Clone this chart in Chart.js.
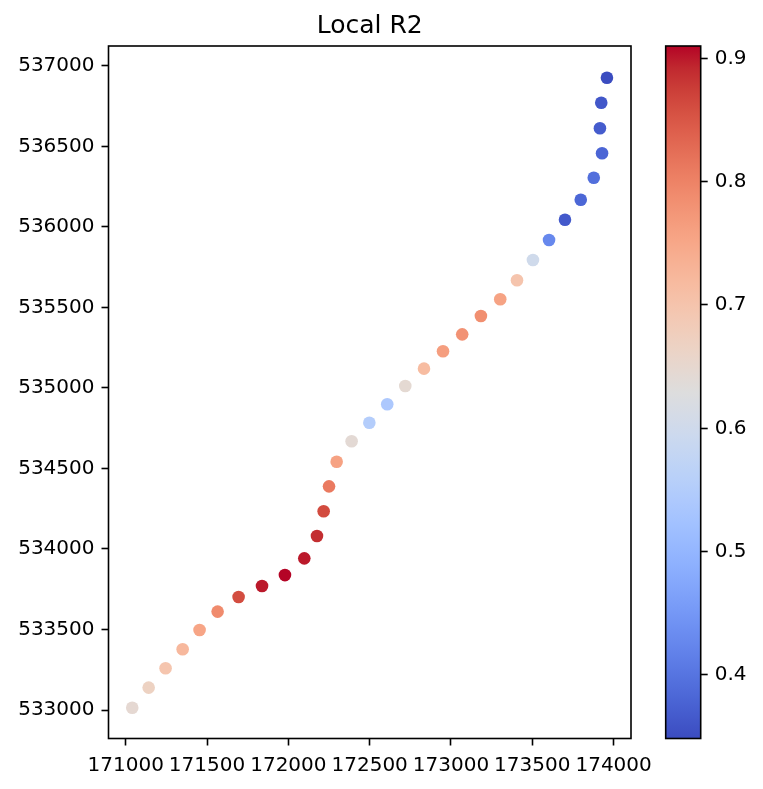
<!DOCTYPE html>
<html>
<head>
<meta charset="utf-8">
<script src="https://cdn.jsdelivr.net/npm/chart.js@4.4.1/dist/chart.umd.min.js"></script>
<style>
  html, body { margin: 0; padding: 0; background: #fff; }
  #wrap { position: relative; width: 763px; height: 789px; }
  #plot { position: absolute; left: 0; top: 0; }
  #cbar { position: absolute; left: 640px; top: 0; }
</style>
</head>
<body>
<div id="wrap">
  <canvas id="plot" width="763" height="789"></canvas>
  <canvas id="cbar" width="123" height="789"></canvas>
</div>
<script>
// tick labels
const xTicks = [171000, 171500, 172000, 172500, 173000, 173500, 174000];
const yTicks = [533000, 533500, 534000, 534500, 535000, 535500, 536000, 536500, 537000];
const cbTicks = [0.4, 0.5, 0.6, 0.7, 0.8, 0.9];

// axis limits
const xRange = [170894, 174107];
const yRange = [532823, 537124];
const cbRange = [0.3485, 0.910];

// point coordinates and local R2 values
const xs = [171040, 171141, 171245, 171350, 171454, 171565, 171694, 171838, 171979, 172098,
            172176, 172217, 172250, 172297, 172389, 172498, 172608, 172719, 172834, 172951,
            173069, 173184, 173303, 173406, 173504, 173603, 173701, 173798, 173878, 173929,
            173916, 173924, 173959];
const ys = [533014, 533139, 533259, 533377, 533497, 533611, 533702, 533770, 533838, 533942,
            534081, 534234, 534389, 534542, 534669, 534784, 534899, 535012, 535120, 535228,
            535333, 535447, 535551, 535669, 535795, 535919, 536045, 536169, 536306, 536458,
            536613, 536772, 536927];
const r2 = [0.646, 0.668, 0.698, 0.722, 0.753, 0.790, 0.860, 0.900, 0.910, 0.900,
            0.888, 0.862, 0.810, 0.758, 0.643, 0.552, 0.540, 0.645, 0.716, 0.764,
            0.780, 0.785, 0.757, 0.700, 0.600, 0.427, 0.365, 0.382, 0.393, 0.380,
            0.368, 0.362, 0.3485];

// coolwarm colormap, 33 samples
const coolwarmTable = [
  [59,76,192],[68,90,204],[77,104,215],[87,117,225],[98,130,234],[108,142,241],
  [119,154,247],[130,165,251],[141,176,254],[152,185,255],[163,194,255],[174,201,253],
  [184,208,249],[194,213,244],[204,217,238],[213,219,230],[221,221,221],[229,216,209],
  [236,211,197],[241,204,185],[245,196,173],[247,187,160],[247,177,148],[247,166,135],
  [244,154,123],[241,141,111],[236,127,99],[229,112,88],[222,96,77],[213,80,66],
  [203,62,56],[192,40,47],[180,4,38]
];

function coolwarm(t) {
    t = Math.max(0, Math.min(1, t));
    const f = t * (coolwarmTable.length - 1);
    const i = Math.min(Math.floor(f), coolwarmTable.length - 2);
    const w = f - i;
    const a = coolwarmTable[i], b = coolwarmTable[i + 1];
    const c = a.map((v, k) => Math.round(v + (b[k] - v) * w));
    return `rgb(${c[0]},${c[1]},${c[2]})`;
}

function norm(v) {
    return (v - cbRange[0]) / (cbRange[1] - cbRange[0]);
}

const FONT = 'DejaVu Sans';

const framePlugin = {
    id: 'frame',
    afterDraw(chart) {
        const a = chart.chartArea;
        const ctx = chart.ctx;
        ctx.save();
        ctx.strokeStyle = '#000';
        ctx.lineWidth = 1.6;
        ctx.strokeRect(a.left, a.top, a.right - a.left, a.bottom - a.top);
        ctx.restore();
    }
};

function tickGrid() {
    return {
        display: true,
        drawOnChartArea: false,
        drawTicks: true,
        tickLength: 7,
        tickWidth: 1.6,
        tickColor: '#000'
    };
}

new Chart(document.getElementById('plot'), {
    type: 'scatter',
    data: {
        datasets: [{
            data: xs.map((x, i) => ({ x: x, y: ys[i] })),
            backgroundColor: r2.map(v => coolwarm(norm(v))),
            pointRadius: 6.3,
            pointHoverRadius: 6.3,
            pointBorderWidth: 0
        }]
    },
    options: {
        responsive: false,
        animation: false,
        devicePixelRatio: 1,
        layout: { padding: { left: 0, right: 132, top: 0, bottom: 0 } },
        plugins: {
            legend: { display: false },
            tooltip: { enabled: false },
            title: {
                display: true,
                text: 'Local R2',
                fullSize: false,
                color: '#000',
                font: { family: FONT, size: 25, weight: 'normal' },
                padding: { top: 11, bottom: 5 }
            }
        },
        scales: {
            x: {
                type: 'linear',
                min: xRange[0],
                max: xRange[1],
                afterBuildTicks: s => { s.ticks = xTicks.map(v => ({ value: v })); },
                afterFit: s => { s.height = 50.5; },
                border: { display: false },
                grid: tickGrid(),
                ticks: {
                    color: '#000',
                    font: { family: FONT, size: 20 },
                    padding: 8,
                    maxRotation: 0,
                    minRotation: 0,
                    autoSkip: false,
                    callback: v => String(v)
                }
            },
            y: {
                type: 'linear',
                min: yRange[0],
                max: yRange[1],
                afterBuildTicks: s => { s.ticks = yTicks.map(v => ({ value: v })); },
                afterFit: s => { s.width = 108.5; },
                border: { display: false },
                grid: tickGrid(),
                ticks: {
                    color: '#000',
                    font: { family: FONT, size: 20 },
                    padding: 7,
                    autoSkip: false,
                    callback: v => String(v)
                }
            }
        }
    },
    plugins: [framePlugin]
});

// colorbar: one floating bar spanning the colour range, filled with the colormap
function cbGradient(context) {
    const chart = context.chart;
    const area = chart.chartArea;
    if (!area) return coolwarm(0.5);
    const yScale = chart.scales.y;
    const top = yScale.getPixelForValue(cbRange[1]);
    const bottom = yScale.getPixelForValue(cbRange[0]);
    const g = chart.ctx.createLinearGradient(0, bottom, 0, top);
    for (let i = 0; i < coolwarmTable.length; i++) {
        const t = i / (coolwarmTable.length - 1);
        g.addColorStop(t, coolwarm(t));
    }
    return g;
}

new Chart(document.getElementById('cbar'), {
    type: 'bar',
    data: {
        labels: ['R2'],
        datasets: [{
            data: [[cbRange[0], cbRange[1]]],
            backgroundColor: cbGradient,
            borderWidth: 0,
            barPercentage: 1,
            categoryPercentage: 1
        }]
    },
    options: {
        responsive: false,
        animation: false,
        devicePixelRatio: 1,
        layout: { padding: { left: 25.7, right: 0, top: 46, bottom: 50.5 } },
        plugins: {
            legend: { display: false },
            tooltip: { enabled: false }
        },
        scales: {
            x: { display: false },
            y: {
                position: 'right',
                min: cbRange[0],
                max: cbRange[1],
                afterBuildTicks: s => { s.ticks = cbTicks.map(v => ({ value: v })); },
                afterFit: s => { s.width = 62.3; },
                border: { display: false },
                grid: tickGrid(),
                ticks: {
                    color: '#000',
                    font: { family: FONT, size: 20 },
                    padding: 7,
                    autoSkip: false,
                    callback: v => v.toFixed(1)
                }
            }
        }
    },
    plugins: [framePlugin]
});
</script>
</body>
</html>
